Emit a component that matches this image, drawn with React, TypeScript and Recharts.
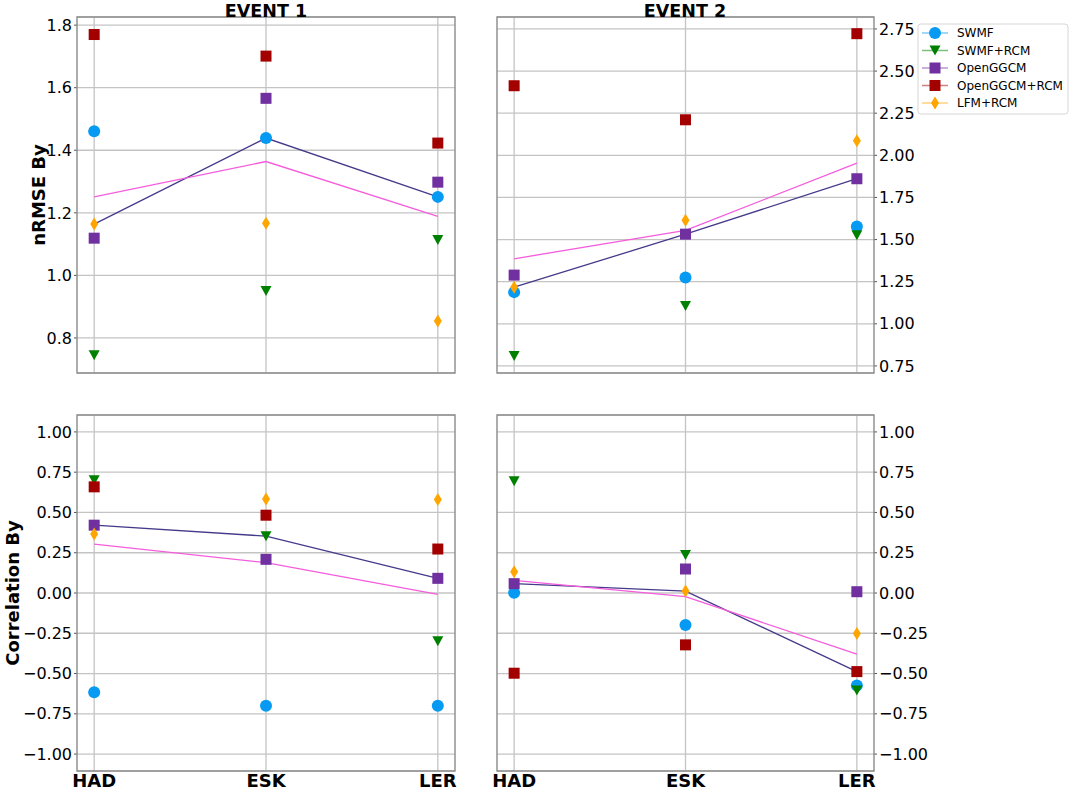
import { ComposedChart, Line, XAxis, YAxis, CartesianGrid, ReferenceLine } from 'recharts';

const FONT = '"DejaVu Sans", sans-serif';

const STATIONS = ['HAD', 'ESK', 'LER'];
const MODELS = ['SWMF', 'SWMF+RCM', 'OpenGGCM', 'OpenGGCM+RCM', 'LFM+RCM'];
const MODEL_KEYS = ['swmf', 'swmfRcm', 'openggcm', 'openggcmRcm', 'lfmRcm'];
const MODEL_COLORS = ['#069af3', '#008000', '#7030a0', '#a30000', '#ffa500'];
const MODEL_SHAPES = ['circle', 'triangle', 'square', 'square', 'diamond'];
const MEDIAN_COLOR = '#443a8a';
const MEAN_COLOR = '#f55ddc';
const GRID_COLOR = '#c4c4c4';

// nRMSE By, event 1
const NRMSE_E1_SWMF = [1.461, 1.439, 1.251];
const NRMSE_E1_SWMF_RCM = [0.745, 0.95, 1.113];
const NRMSE_E1_OPENGGCM = [1.119, 1.566, 1.298];
const NRMSE_E1_OPENGGCM_RCM = [1.77, 1.701, 1.423];
const NRMSE_E1_LFM_RCM = [1.164, 1.167, 0.854];
const NRMSE_E1_MEDIAN = [1.164, 1.439, 1.251];
const NRMSE_E1_MEAN = [1.251, 1.364, 1.189];

// nRMSE By, event 2
const NRMSE_E2_SWMF = [1.188, 1.275, 1.577];
const NRMSE_E2_SWMF_RCM = [0.809, 1.106, 1.526];
const NRMSE_E2_OPENGGCM = [1.289, 1.532, 1.861];
const NRMSE_E2_OPENGGCM_RCM = [2.413, 2.211, 2.722];
const NRMSE_E2_LFM_RCM = [1.217, 1.615, 2.087];
const NRMSE_E2_MEDIAN = [1.217, 1.532, 1.861];
const NRMSE_E2_MEAN = [1.386, 1.554, 1.954];

// Correlation By, event 1
const CORR_E1_SWMF = [-0.616, -0.7, -0.7];
const CORR_E1_SWMF_RCM = [0.7, 0.353, -0.3];
const CORR_E1_OPENGGCM = [0.421, 0.209, 0.091];
const CORR_E1_OPENGGCM_RCM = [0.659, 0.483, 0.273];
const CORR_E1_LFM_RCM = [0.366, 0.583, 0.581];
const CORR_E1_MEDIAN = [0.421, 0.353, 0.091];
const CORR_E1_MEAN = [0.304, 0.188, -0.008];

// Correlation By, event 2
const CORR_E2_SWMF = [0.002, -0.198, -0.574];
const CORR_E2_SWMF_RCM = [0.694, 0.236, -0.605];
const CORR_E2_OPENGGCM = [0.058, 0.149, 0.008];
const CORR_E2_OPENGGCM_RCM = [-0.498, -0.322, -0.488];
const CORR_E2_LFM_RCM = [0.132, 0.012, -0.252];
const CORR_E2_MEDIAN = [0.058, 0.012, -0.488];
const CORR_E2_MEAN = [0.079, -0.023, -0.38];

const NRMSE_E1_TICKS = [0.8, 1.0, 1.2, 1.4, 1.6, 1.8];
const NRMSE_E2_TICKS = [0.75, 1.0, 1.25, 1.5, 1.75, 2.0, 2.25, 2.5, 2.75];
const CORR_TICKS = [-1.0, -0.75, -0.5, -0.25, 0.0, 0.25, 0.5, 0.75, 1.0];
const X_TICKS = [0, 1, 2];

function buildRows(models: number[][], median: number[], mean: number[]) {
  return STATIONS.map((s, i) => {
    const row: any = { x: i, station: s, median: median[i], mean: mean[i] };
    MODEL_KEYS.forEach((k, m) => (row[k] = models[m][i]));
    return row;
  });
}

function MarkerShape({ shape, cx, cy, color }: any) {
  if (cx == null || cy == null) return null;
  if (shape === 'circle') return <circle cx={cx} cy={cy} r={6} fill={color} />;
  if (shape === 'square') return <rect x={cx - 5.5} y={cy - 5.5} width={11} height={11} fill={color} />;
  if (shape === 'triangle')
    return <polygon points={`${cx - 5.5},${cy - 5} ${cx + 5.5},${cy - 5} ${cx},${cy + 5}`} fill={color} />;
  return <polygon points={`${cx},${cy - 6.5} ${cx + 4},${cy} ${cx},${cy + 6.5} ${cx - 4},${cy}`} fill={color} />;
}

const PANELS = [
  {
    id: 'nrmse-e1', left: 0, top: 0, width: 470, height: 400,
    margin: { top: 17, right: 15, bottom: 27, left: 0 },
    side: 'left', showX: false, domain: [0.688, 1.826], ticks: NRMSE_E1_TICKS, decimals: 1,
    rows: buildRows([NRMSE_E1_SWMF, NRMSE_E1_SWMF_RCM, NRMSE_E1_OPENGGCM, NRMSE_E1_OPENGGCM_RCM, NRMSE_E1_LFM_RCM], NRMSE_E1_MEDIAN, NRMSE_E1_MEAN),
  },
  {
    id: 'nrmse-e2', left: 470, top: 0, width: 480, height: 400,
    margin: { top: 17, right: 0, bottom: 27, left: 27 },
    side: 'right', showX: false, domain: [0.708, 2.821], ticks: NRMSE_E2_TICKS, decimals: 2,
    rows: buildRows([NRMSE_E2_SWMF, NRMSE_E2_SWMF_RCM, NRMSE_E2_OPENGGCM, NRMSE_E2_OPENGGCM_RCM, NRMSE_E2_LFM_RCM], NRMSE_E2_MEDIAN, NRMSE_E2_MEAN),
  },
  {
    id: 'corr-e1', left: 0, top: 400, width: 470, height: 392,
    margin: { top: 15, right: 15, bottom: 0, left: 0 },
    side: 'left', showX: true, domain: [-1.105, 1.105], ticks: CORR_TICKS, decimals: 2,
    rows: buildRows([CORR_E1_SWMF, CORR_E1_SWMF_RCM, CORR_E1_OPENGGCM, CORR_E1_OPENGGCM_RCM, CORR_E1_LFM_RCM], CORR_E1_MEDIAN, CORR_E1_MEAN),
  },
  {
    id: 'corr-e2', left: 470, top: 400, width: 480, height: 392,
    margin: { top: 15, right: 0, bottom: 0, left: 27 },
    side: 'right', showX: true, domain: [-1.105, 1.105], ticks: CORR_TICKS, decimals: 2,
    rows: buildRows([CORR_E2_SWMF, CORR_E2_SWMF_RCM, CORR_E2_OPENGGCM, CORR_E2_OPENGGCM_RCM, CORR_E2_LFM_RCM], CORR_E2_MEDIAN, CORR_E2_MEAN),
  },
];

const fmt = (d: number) => (v: number) => v.toFixed(d).replace('-', '\u2212');

function Panel({ p }: { p: any }) {
  return (
    <div style={{ position: 'absolute', left: p.left, top: p.top }}>
      <ComposedChart width={p.width} height={p.height} data={p.rows} margin={p.margin}>
        <CartesianGrid stroke={GRID_COLOR} strokeWidth={1.3} vertical={false} />
        {X_TICKS.map((v) => (
          <ReferenceLine key={v} x={v} stroke={GRID_COLOR} strokeWidth={1.3} />
        ))}
        <XAxis
          dataKey="x"
          type="number"
          domain={[-0.1, 2.1]}
          ticks={X_TICKS}
          interval={0}
          allowDataOverflow
          hide={!p.showX}
          height={21}
          axisLine={false}
          tickLine={false}
          tickSize={0}
          tickMargin={3}
          tick={{ fill: '#000', fontSize: 18, fontWeight: 'bold', fontFamily: FONT }}
          tickFormatter={(v) => STATIONS[v]}
        />
        <YAxis
          orientation={p.side}
          type="number"
          domain={p.domain}
          ticks={p.ticks}
          allowDataOverflow
          width={p.side === 'left' ? 77 : 76}
          axisLine={false}
          tickSize={3}
          tickMargin={2}
          tickLine={{ stroke: '#555' }}
          tick={{ fill: '#000', fontSize: 16, fontFamily: FONT }}
          tickFormatter={fmt(p.decimals)}
          interval={0}
        />
        {MODEL_KEYS.map((k, m) => (
          <Line
            key={k}
            dataKey={k}
            stroke="none"
            isAnimationActive={false}
            activeDot={false}
            dot={(d: any) => (
              <MarkerShape key={`${k}-${d.index}`} shape={MODEL_SHAPES[m]} cx={d.cx} cy={d.cy} color={MODEL_COLORS[m]} />
            )}
          />
        ))}
        <Line dataKey="median" stroke={MEDIAN_COLOR} strokeWidth={1.3} dot={false} activeDot={false} isAnimationActive={false} />
        <Line dataKey="mean" stroke={MEAN_COLOR} strokeWidth={1.3} dot={false} activeDot={false} isAnimationActive={false} />
      </ComposedChart>
    </div>
  );
}

const PLOT_BOXES = [
  { x: 77, y: 17, w: 378, h: 356 },
  { x: 497, y: 17, w: 377, h: 356 },
  { x: 77, y: 415, w: 378, h: 356 },
  { x: 497, y: 415, w: 377, h: 356 },
];

export default function App() {
  return (
    <div style={{ position: 'absolute', left: 0, top: 0, width: 1072, height: 792, background: '#fff', fontFamily: FONT }}>
      {PANELS.map((p) => (
        <Panel key={p.id} p={p} />
      ))}
      <svg width={1072} height={792} style={{ position: 'absolute', left: 0, top: 0, pointerEvents: 'none' }}>
        {PLOT_BOXES.map((b, i) => (
          <rect key={i} x={b.x} y={b.y} width={b.w} height={b.h} fill="none" stroke="#8a8a8a" strokeWidth={1.4} />
        ))}
        <text x={266} y={16.5} textAnchor="middle" fontSize={17.5} fontWeight="bold" fontFamily={FONT}>EVENT 1</text>
        <text x={685} y={16.5} textAnchor="middle" fontSize={17.5} fontWeight="bold" fontFamily={FONT}>EVENT 2</text>
        <text x={38} y={195} transform="rotate(-90 38 195)" textAnchor="middle" dominantBaseline="central" fontSize={18} fontWeight="bold" fontFamily={FONT}>nRMSE By</text>
        <text x={12} y={593} transform="rotate(-90 12 593)" textAnchor="middle" dominantBaseline="central" fontSize={18} fontWeight="bold" fontFamily={FONT}>Correlation By</text>
        <rect x={918} y={24} width={150} height={90} rx={3} fill="#fff" fillOpacity={0.85} stroke="#d6d6d6" strokeWidth={1} />
        {MODELS.map((name, m) => {
          const y = 33 + m * 17.5;
          return (
            <g key={name}>
              <line x1={922} x2={948} y1={y} y2={y} stroke={MODEL_COLORS[m]} strokeOpacity={0.5} strokeWidth={1.5} />
              <MarkerShape shape={MODEL_SHAPES[m]} cx={935} cy={y} color={MODEL_COLORS[m]} />
              <text x={957} y={y} dominantBaseline="central" fontSize={12} fontFamily={FONT}>{name}</text>
            </g>
          );
        })}
      </svg>
    </div>
  );
}
